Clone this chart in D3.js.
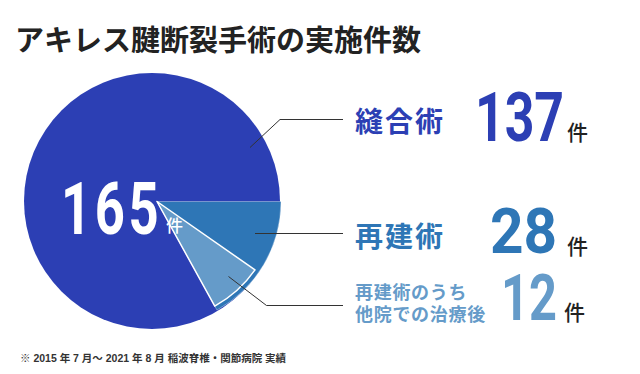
<!DOCTYPE html>
<html>
<head>
<meta charset="utf-8">
<script src="https://cdn.jsdelivr.net/npm/d3@7"></script>
<style>
  body { margin: 0; background: #fff; }
  text { font-family: "Noto Sans CJK JP", sans-serif; }
  .num { font-family: Roboto, sans-serif; font-weight: 700; }
</style>
</head>
<body>
<div id="chart"></div>
<script>
// data
var title = "アキレス腱断裂手術の実施件数";
var categories = ["縫合術", "再建術"];
var values = [137, 28];
var subLabel = ["再建術のうち", "他院での治療後"];
var subValue = 12;
var unit = "件";
var note = "※ 2015 年 7 月～ 2021 年 8 月 稲波脊椎・関節病院 実績";
var colors = ["#2c3fb4", "#2e76b6", "#659bc9"];

var total = d3.sum(values);

var svg = d3.select("#chart")
    .append("svg")
    .attr("width", 640)
    .attr("height", 374);

svg.append("text")
    .attr("x", 15)
    .attr("y", 51)
    .attr("font-size", 29)
    .attr("font-weight", 700)
    .attr("fill", "#222")
    .text(title);

// angle scale for the pie
var angle = d3.scaleLinear().domain([0, total]).range([0, 2 * Math.PI]);
var start = Math.PI / 2 + angle(values[1]);

var pie = d3.pie().sort(null)
    .startAngle(start)
    .endAngle(start + 2 * Math.PI);
var slices = pie(values);

// base disc = all cases (165)
var base = svg.append("g").attr("transform", "translate(152,201)");
base.append("path")
    .attr("d", d3.arc().innerRadius(0).outerRadius(128)({startAngle: 0, endAngle: angle(total)}))
    .attr("fill", colors[0]);

var g = svg.append("g").attr("transform", "translate(157,201.5)");

// 再建術 slice
g.append("path")
    .attr("d", d3.arc().innerRadius(0).outerRadius(124)(slices[1]))
    .attr("fill", colors[1])
    .attr("stroke", "#fff")
    .attr("stroke-opacity", 0.45)
    .attr("stroke-width", 0.8);

// 他院での治療後 part (inside 再建術)
var subArc = {startAngle: slices[1].endAngle - angle(subValue), endAngle: slices[1].endAngle};
g.append("path")
    .attr("d", d3.arc().innerRadius(0).outerRadius(119.5)(subArc))
    .attr("fill", colors[2])
    .attr("stroke", "#fff")
    .attr("stroke-width", 1.5)
    .attr("stroke-linejoin", "round");

// total in pie (condensed, letter spaced)
svg.append("g")
    .attr("transform", "translate(61,233.5) scale(0.73,1)")
    .append("text")
    .attr("class", "num")
    .attr("font-size", 72)
    .attr("font-weight", 500)
    .attr("letter-spacing", 5)
    .attr("fill", "#fff")
    .text(total);
svg.append("text")
    .attr("x", 166)
    .attr("y", 232)
    .attr("font-size", 17)
    .attr("font-weight", 500)
    .attr("fill", "#fff")
    .text(unit);

// leader lines
var leaders = [
    [[250, 147.5], [280, 119.5], [343, 119.5]],
    [[255, 233.5], [343, 233.5]],
    [[228.5, 276.5], [266.5, 305.5], [343, 305.5]]
];
svg.selectAll(".leader")
    .data(leaders)
    .enter()
    .append("path")
    .attr("class", "leader")
    .attr("d", d3.line())
    .attr("fill", "none")
    .attr("stroke", "#333")
    .attr("stroke-width", 1);

// labels
svg.selectAll(".catLabel")
    .data(categories)
    .enter()
    .append("text")
    .attr("class", "catLabel")
    .attr("x", 355)
    .attr("y", function(d, i) { return [132, 246.5][i]; })
    .attr("font-size", 28)
    .attr("font-weight", 700)
    .attr("letter-spacing", 2)
    .attr("fill", function(d, i) { return colors[i]; })
    .text(function(d) { return d; });

svg.selectAll(".subLabel")
    .data(subLabel)
    .enter()
    .append("text")
    .attr("class", "subLabel")
    .attr("x", 355)
    .attr("y", function(d, i) { return 299 + i * 21.5; })
    .attr("font-size", 18)
    .attr("font-weight", 700)
    .attr("letter-spacing", 0.7)
    .attr("fill", colors[2])
    .text(function(d) { return d; });

// numbers (condensed with a horizontal scale)
var nums = values.concat([subValue]);
var numPos = [
    {x: 475, y: 140.7, size: 69, sx: 0.75, ux: 567, uy: 140},
    {x: 490, y: 253.3, size: 63, sx: 0.93, ux: 567, uy: 253.5},
    {x: 501, y: 320, size: 65, sx: 0.75, ux: 564, uy: 320}
];
svg.selectAll(".bigNum")
    .data(nums)
    .enter()
    .append("g")
    .attr("class", "bigNum")
    .attr("transform", function(d, i) {
        var p = numPos[i];
        return "translate(" + p.x + "," + p.y + ") scale(" + p.sx + ",1)";
    })
    .append("text")
    .attr("class", "num")
    .attr("font-size", function(d, i) { return numPos[i].size; })
    .attr("fill", function(d, i) { return colors[i]; })
    .text(function(d) { return d; });

svg.selectAll(".unit")
    .data(nums)
    .enter()
    .append("text")
    .attr("class", "unit")
    .attr("x", function(d, i) { return numPos[i].ux; })
    .attr("y", function(d, i) { return numPos[i].uy; })
    .attr("font-size", 21)
    .attr("font-weight", 500)
    .attr("fill", "#222")
    .text(unit);

svg.append("text")
    .attr("x", 20)
    .attr("y", 362)
    .attr("font-size", 10.5)
    .attr("font-weight", 700)
    .attr("fill", "#333")
    .style("font-family", "'Liberation Sans', 'Noto Sans CJK JP', sans-serif")
    .text(note);
</script>
</body>
</html>
